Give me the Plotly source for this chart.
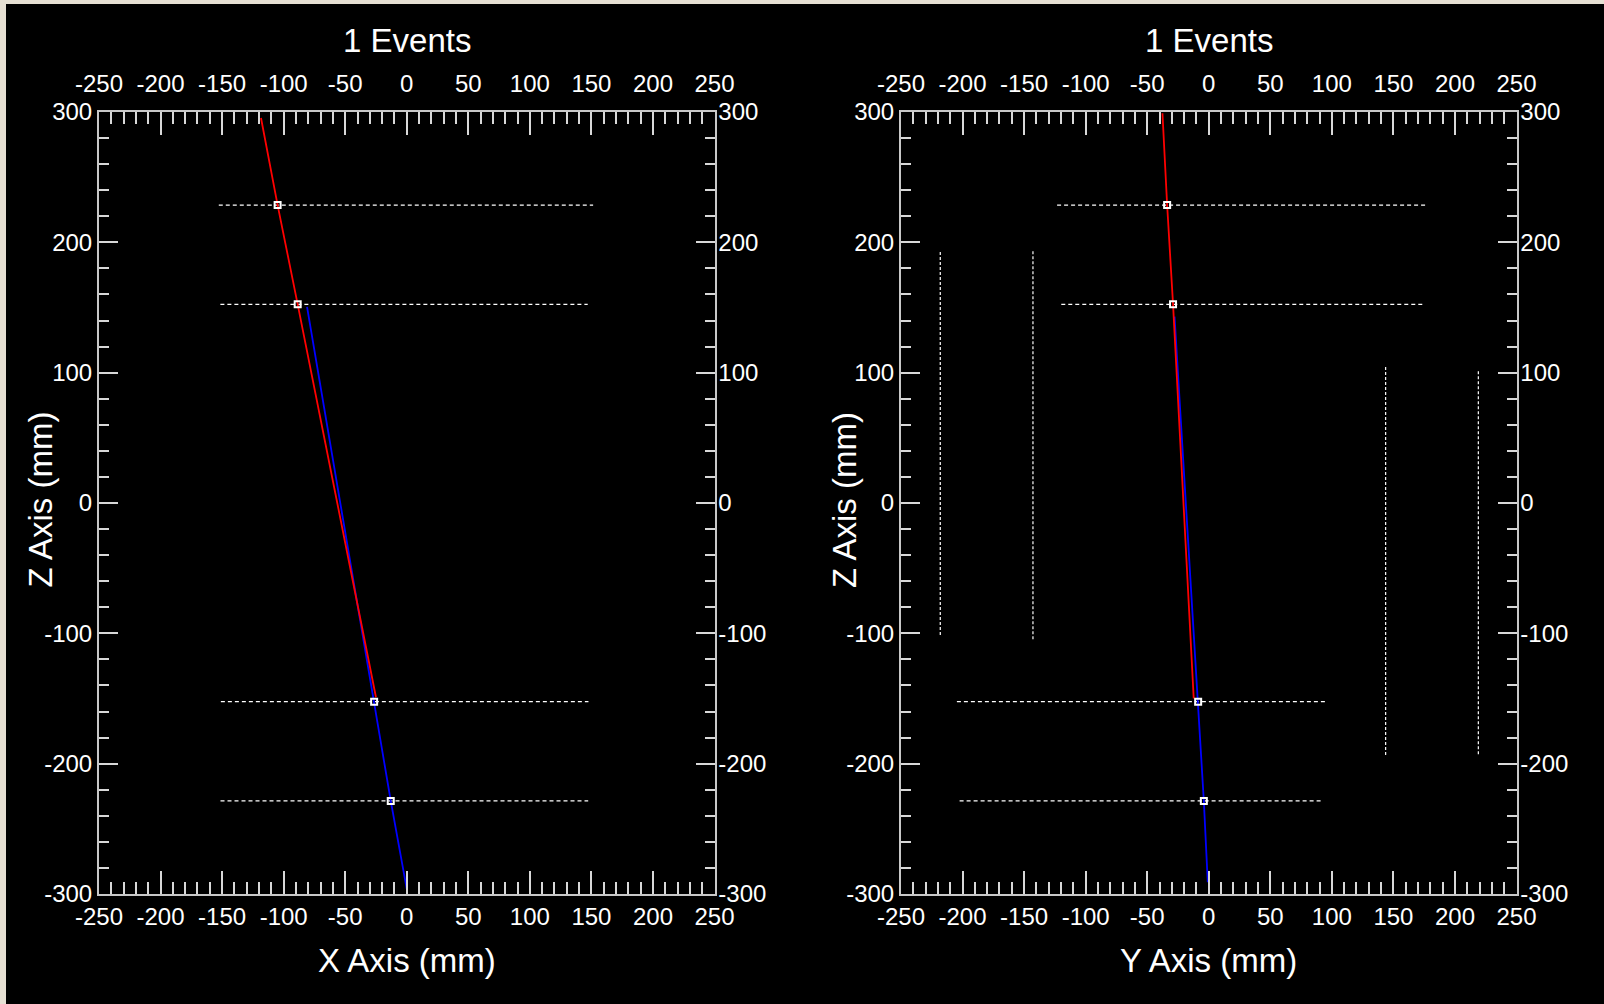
import plotly.graph_objects as go

# ---------------- data ----------------
titles = ["1 Events", "1 Events"]
x_titles = ["X Axis (mm)", "Y Axis (mm)"]
z_title = "Z Axis (mm)"

x_tick_vals = [-250, -200, -150, -100, -50, 0, 50, 100, 150, 200, 250]
x_tick_text = ["-250", "-200", "-150", "-100", "-50", "0", "50", "100", "150", "200", "250"]
z_tick_vals = [-300, -200, -100, 0, 100, 200, 300]
z_tick_text = ["-300", "-200", "-100", "0", "100", "200", "300"]

layer_z = [228.6, 152.4, -152.4, -228.6]

# X-Z view
xz_layer_xmin = [-152.7, -151.4, -151.0, -151.3]
xz_layer_xmax = [151.4, 147.0, 147.6, 147.4]
xz_hit_x = [-104.9, -88.6, -26.5, -13.0]
xz_red_x = [-118.4, -104.9, -88.6, -25.0]
xz_red_z = [295.4, 228.6, 152.4, -149.0]
xz_blue_x = [-81.0, -26.6, -13.0, 0.0]
xz_blue_z = [150.5, -152.4, -228.6, -296.0]

# Y-Z view
yz_layer_ymin = [-123.2, -119.8, -204.6, -202.4]
yz_layer_ymax = [177.9, 175.4, 94.9, 92.2]
yz_hit_y = [-33.8, -29.0, -8.6, -4.0]
yz_red_y = [-37.6, -33.8, -29.0, -12.2]
yz_red_z = [299.0, 228.6, 152.4, -150.0]
yz_blue_y = [-27.8, -8.6, -4.0, -0.8]
yz_blue_z = [143.0, -152.4, -228.6, -291.0]
plane_y = [-218.1, -142.8, 143.7, 219.0]
plane_zmin = [-101.3, -104.6, -193.4, -192.8]
plane_zmax = [192.8, 194.7, 105.1, 102.0]

x_range = [-250, 250]
z_range = [-300, 300]

# ---------------- figure ----------------
W, H = 1604, 1004
FONT = "Liberation Sans, Arial, sans-serif"
LINE_C = "#c8c8c8"
TICK_C = "#d8d8d8"

fig = go.Figure()


def add_view(xa, ya, lmin, lmax, hits, rx, rz, bx, bz):
    for z, a, b in zip(layer_z, lmin, lmax):
        fig.add_trace(go.Scatter(x=[a, b], y=[z, z], mode="lines",
                                 line=dict(color="white", width=1.3, dash="4px,3px"),
                                 xaxis=xa, yaxis=ya, hoverinfo="skip"))
    fig.add_trace(go.Scatter(x=bx, y=bz, mode="lines",
                             line=dict(color="#0000ff", width=1.8),
                             xaxis=xa, yaxis=ya))
    fig.add_trace(go.Scatter(x=rx, y=rz, mode="lines",
                             line=dict(color="#ff0000", width=1.8),
                             xaxis=xa, yaxis=ya))
    fig.add_trace(go.Scatter(x=hits, y=layer_z, mode="markers",
                             marker=dict(symbol="square-open", size=6,
                                         color="white", line=dict(color="white", width=2)),
                             xaxis=xa, yaxis=ya))


add_view("x", "y", xz_layer_xmin, xz_layer_xmax, xz_hit_x,
         xz_red_x, xz_red_z, xz_blue_x, xz_blue_z)
add_view("x2", "y2", yz_layer_ymin, yz_layer_ymax, yz_hit_y,
         yz_red_y, yz_red_z, yz_blue_y, yz_blue_z)

for py, a, b in zip(plane_y, plane_zmin, plane_zmax):
    fig.add_trace(go.Scatter(x=[py, py], y=[a, b], mode="lines",
                             line=dict(color="white", width=1.2, dash="3px,2px"),
                             xaxis="x2", yaxis="y2", hoverinfo="skip"))

# dummy traces so mirrored axes render
fig.add_trace(go.Scatter(x=[None], y=[None], xaxis="x3", yaxis="y3"))
fig.add_trace(go.Scatter(x=[None], y=[None], xaxis="x4", yaxis="y4"))

# pixel geometry
L1, R1 = 99, 714.5
L2, R2 = 901, 1516.5
T, B = 112, 894
dom1 = [L1 / W, R1 / W]
dom2 = [L2 / W, R2 / W]
ydom = [1 - B / H, 1 - T / H]

tickfont = dict(family=FONT, size=24, color="white")


def xaxis(dom, anchor, side, overlay=None, standoff=0):
    d = dict(domain=dom, anchor=anchor, side=side, range=x_range, automargin=False,
             showgrid=False, zeroline=False, showline=True, linecolor=LINE_C, linewidth=2,
             ticks="inside", ticklen=23, tickwidth=1.6, tickcolor=TICK_C,
             tickmode="array", tickvals=x_tick_vals, ticktext=x_tick_text,
             tickfont=tickfont, ticklabelstandoff=standoff,
             minor=dict(ticks="inside", ticklen=12, tickwidth=1.6, tickcolor=TICK_C,
                        tickmode="linear", tick0=0, dtick=10, showgrid=False),
             fixedrange=True)
    if overlay:
        d["overlaying"] = overlay
    return d


def yaxis(dom, anchor, side, overlay=None, standoff=0):
    d = dict(domain=dom, anchor=anchor, side=side, range=z_range, automargin=False,
             showgrid=False, zeroline=False, showline=True, linecolor=LINE_C, linewidth=2,
             ticks="inside", ticklen=19, tickwidth=1.6, tickcolor=TICK_C,
             tickmode="array", tickvals=z_tick_vals, ticktext=z_tick_text,
             tickfont=tickfont, ticklabelstandoff=standoff,
             minor=dict(ticks="inside", ticklen=10, tickwidth=1.6, tickcolor=TICK_C,
                        tickmode="linear", tick0=0, dtick=20, showgrid=False),
             fixedrange=True)
    if overlay:
        d["overlaying"] = overlay
    return d


fig.update_layout(
    width=W, height=H,
    margin=dict(l=0, r=0, t=0, b=0, pad=0),
    paper_bgcolor="#e6e0d3",
    plot_bgcolor="black",
    showlegend=False,
    font=dict(family=FONT, color="white"),
    xaxis=xaxis(dom1, "y", "bottom"),
    yaxis=yaxis(ydom, "x", "left"),
    xaxis3=xaxis(dom1, "y", "top", "x", standoff=8),
    yaxis3=yaxis(ydom, "x", "right", "y", standoff=-3),
    xaxis2=xaxis(dom2, "y2", "bottom"),
    yaxis2=yaxis(ydom, "x2", "left"),
    xaxis4=xaxis(dom2, "y2", "top", "x2", standoff=8),
    yaxis4=yaxis(ydom, "x2", "right", "y2", standoff=-3),
    shapes=[dict(type="rect", xref="paper", yref="paper",
                 x0=6 / W, x1=1, y0=0, y1=1 - 4 / H,
                 fillcolor="black", line=dict(width=0), layer="below")],
)

ann = []
for cx, t, xt in zip([(L1 + R1) / 2, (L2 + R2) / 2], titles, x_titles):
    ann.append(dict(x=cx / W, y=1 - 41 / H, xref="paper", yref="paper", text=t,
                    showarrow=False, xanchor="center", yanchor="middle",
                    font=dict(family=FONT, size=33, color="white")))
    ann.append(dict(x=cx / W, y=1 - 960 / H, xref="paper", yref="paper", text=xt,
                    showarrow=False, xanchor="center", yanchor="middle",
                    font=dict(family=FONT, size=33, color="white")))
for cx in [39.5, 844]:
    ann.append(dict(x=cx / W, y=1 - 500 / H, xref="paper", yref="paper", text=z_title,
                    showarrow=False, xanchor="center", yanchor="middle", textangle=-90,
                    font=dict(family=FONT, size=33, color="white")))
fig.update_layout(annotations=ann)

fig.write_html("out.html", config={"displayModeBar": False},
               post_script="document.body.style.margin='0';document.body.style.overflow='hidden';")
